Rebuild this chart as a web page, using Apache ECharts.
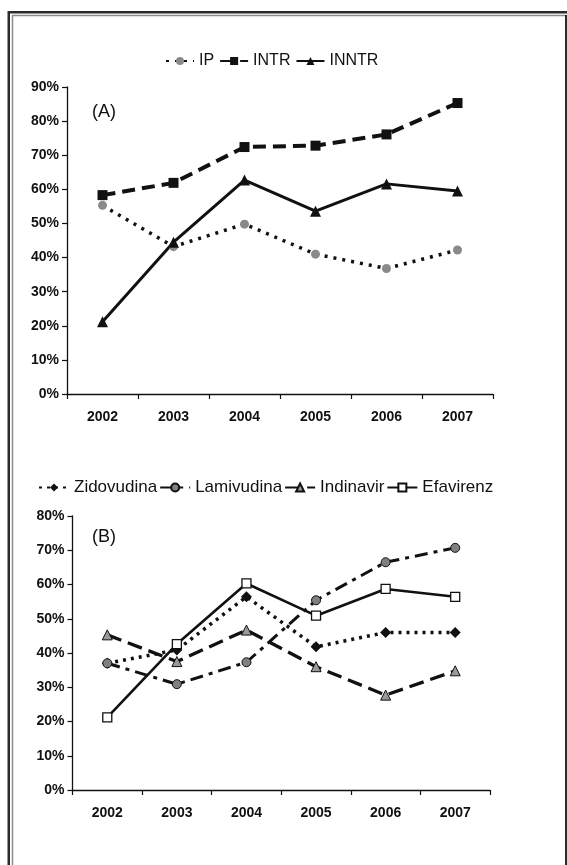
<!DOCTYPE html>
<html>
<head>
<meta charset="utf-8">
<script src="https://cdn.jsdelivr.net/npm/echarts@6/dist/echarts.min.js"></script>
<style>
  html, body { margin: 0; padding: 0; background: #fff; }
  #chart { width: 567px; height: 865px; }
</style>
</head>
<body>
<div id="chart"></div>
<script>
// Years on the horizontal axis (both panels)
const years = ['2002', '2003', '2004', '2005', '2006', '2007'];

// Panel (A): percentages by drug class
const ip = [55.3, 43.2, 49.8, 41.0, 36.8, 42.2];
const intr = [58.3, 61.9, 72.4, 72.8, 76.1, 85.3];
const inntr = [21.2, 44.5, 62.7, 53.6, 61.6, 59.5];

// Panel (B): percentages by drug
const zidovudina = [37.0, 40.9, 56.4, 41.8, 46.0, 46.0];
const lamivudina = [37.0, 30.9, 37.3, 55.4, 66.5, 70.7];
const indinavir = [45.3, 37.5, 46.7, 36.0, 27.7, 34.8];
const efavirenz = [21.2, 42.6, 60.3, 50.9, 58.7, 56.4];

const FONT = 'Liberation Sans, Arial, sans-serif';
const INK = '#111';

const chart = echarts.init(document.getElementById('chart'), null, { renderer: 'canvas' });

function xAxis(gridIndex) {
  return {
    type: 'category', gridIndex, data: years, boundaryGap: true,
    axisLine: { lineStyle: { color: INK, width: 1.3 } },
    axisTick: { show: true, alignWithLabel: false, length: 5, lineStyle: { color: INK, width: 1.2 } },
    axisLabel: { color: INK, fontFamily: FONT, fontWeight: 'bold', fontSize: 14, margin: 16 },
    splitLine: { show: false }
  };
}
function yAxis(gridIndex, max) {
  return {
    type: 'value', gridIndex, min: 0, max, interval: 10,
    axisLine: { show: true, lineStyle: { color: INK, width: 1.3 } },
    axisTick: { show: true, length: 5, lineStyle: { color: INK, width: 1.2 } },
    axisLabel: { color: INK, fontFamily: FONT, fontWeight: 'bold', fontSize: 14, margin: 8, formatter: '{value}%' },
    splitLine: { show: false }
  };
}

function line(name, data, xi, lineStyle, symbol, symbolSize, itemStyle) {
  return {
    name, type: 'line', data, xAxisIndex: xi, yAxisIndex: xi,
    symbol, symbolSize, showSymbol: true,
    lineStyle: Object.assign({ color: INK }, lineStyle),
    itemStyle, z: 3, animation: false
  };
}

const option = {
  backgroundColor: '#fff',
  animation: false,
  grid: [
    { left: 67, top: 87, width: 426, height: 307 },
    { left: 72.5, top: 516, width: 417.5, height: 274 }
  ],
  xAxis: [xAxis(0), xAxis(1)],
  yAxis: [yAxis(0, 90), yAxis(1, 80)],
  legend: [
    {
      data: ['IP', 'INTR', 'INNTR'], left: 160, top: 48,
      itemWidth: 28, itemHeight: 10, itemGap: 5,
      textStyle: { fontFamily: FONT, fontSize: 16, color: INK }
    },
    {
      data: ['Zidovudina', 'Lamivudina', 'Indinavir', 'Efavirenz'], left: 33, top: 474,
      itemWidth: 30, itemHeight: 10, itemGap: 2,
      textStyle: { fontFamily: FONT, fontSize: 17, color: INK }
    }
  ],
  series: [
    line('IP', ip, 0, { width: 3.5, type: [3, 6] }, 'circle', 9,
      { color: '#8a8a8a', borderWidth: 0 }),
    line('INTR', intr, 0, { width: 4, type: [13, 7] }, 'rect', 10,
      { color: INK, borderWidth: 0 }),
    line('INNTR', inntr, 0, { width: 3, type: 'solid' }, 'triangle', 11,
      { color: INK, borderWidth: 0 }),

    line('Zidovudina', zidovudina, 1, { width: 3.5, type: [3, 5] }, 'diamond', 11,
      { color: INK, borderWidth: 0 }),
    line('Lamivudina', lamivudina, 1, { width: 3, type: [13, 6, 4, 6] }, 'circle', 9,
      { color: '#808080', borderColor: INK, borderWidth: 1 }),
    line('Indinavir', indinavir, 1, { width: 3.3, type: [15, 7] }, 'triangle', 10,
      { color: '#9a9a9a', borderColor: INK, borderWidth: 1 }),
    line('Efavirenz', efavirenz, 1, { width: 2.6, type: 'solid' }, 'rect', 9,
      { color: '#fff', borderColor: INK, borderWidth: 1.3 })
  ],
  graphic: [
    // Panel tags
    { type: 'text', left: 92, top: 103, style: { text: '(A)', fontFamily: FONT, fontSize: 18, fill: INK } },
    { type: 'text', left: 92, top: 528, style: { text: '(B)', fontFamily: FONT, fontSize: 18, fill: INK } },
    // Page frame: dark outer rule and light inner rule
    { type: 'polyline', shape: { points: [[8.75, 880], [8.75, 12.25], [580, 12.25]] },
      style: { stroke: '#2b2b2b', lineWidth: 2.5, fill: null } },
    { type: 'polyline', shape: { points: [[12.5, 880], [12.5, 15.5], [580, 15.5]] },
      style: { stroke: '#8c8c8c', lineWidth: 1.5, fill: null } },
    { type: 'line', shape: { x1: 566, y1: 15, x2: 566, y2: 880 },
      style: { stroke: '#2b2b2b', lineWidth: 2 } }
  ]
};

chart.setOption(option);
</script>
</body>
</html>
